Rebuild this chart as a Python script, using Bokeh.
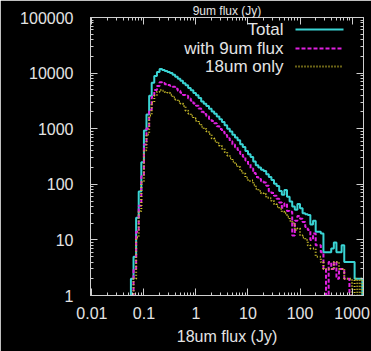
from bokeh.plotting import figure
from bokeh.models import (LogAxis, FixedTicker, NumeralTickFormatter, Range1d, Label, Arrow,
                          CustomJSTickFormatter)
from bokeh.embed import file_html
from bokeh.resources import INLINE

# histogram bin edges (Jy), 0.05 dex bins
bin_edges = [0.0562, 0.0631, 0.0708, 0.0794, 0.0891,
             0.100, 0.112, 0.126, 0.141, 0.158, 0.178, 0.200, 0.224, 0.251, 0.282,
             0.316, 0.355, 0.398, 0.447, 0.501, 0.562, 0.631, 0.708, 0.794, 0.891,
             1.00, 1.12, 1.26, 1.41, 1.58, 1.78, 2.00, 2.24, 2.51, 2.82,
             3.16, 3.55, 3.98, 4.47, 5.01, 5.62, 6.31, 7.08, 7.94, 8.91,
             10.0, 11.2, 12.6, 14.1, 15.8, 17.8, 20.0, 22.4, 25.1, 28.2,
             31.6, 35.5, 39.8, 44.7, 50.1, 56.2, 63.1, 70.8, 79.4, 89.1,
             100, 112, 126, 141, 158, 178, 200, 224, 251, 282,
             316, 355, 398, 447, 501, 562, 631, 708, 794, 891,
             1000, 1120, 1260, 1410, 1580, 1780]

total = [2, 5, 25, 74, 250, 930, 1800, 3900, 6700, 8900,
         10500, 11800, 11400, 10900, 10500, 10000, 9300, 8600, 7900, 7250,
         6600, 6030, 5370, 4900, 4370, 3980, 3550, 3090, 2820, 2570,
         2290, 2040, 1860, 1660, 1480, 1320, 1150, 1000, 891, 776,
         692, 617, 525, 468, 398, 347, 309, 257, 219, 200,
         182, 174, 151, 135, 120, 102, 93, 76, 65, 79,
         60, 49, 40, 35, 44, 37, 30, 29, 28, 19,
         22, 14, 14, 13, 6, 6, 6, 7, 9, 6,
         6, 8, 4, 4, 4, 4, 2, 2, 2, 0]

with_9um = [1, 3, 14, 41, 140, 520, 1010, 2180, 3750, 4980,
            5880, 6840, 6610, 6320, 6090, 5900, 5670, 5250, 4820, 4420,
            4030, 3920, 3490, 3190, 2840, 2590, 2310, 2010, 1830, 1670,
            1490, 1370, 1250, 1110, 990, 884, 770, 670, 597, 520,
            464, 413, 352, 314, 267, 232, 192, 159, 136, 124,
            113, 108, 94, 75, 70, 62, 55, 47, 38, 45,
            33, 32, 12, 22, 27, 24, 21, 17, 15, 10,
            13, 8, 8, 6, 3, 1, 4, 3, 4, 2,
            3, 3, 2, 2, 1, 1, 0, 0, 0, 0]

only_18um = [1, 2, 11, 33, 110, 410, 790, 1720, 2950, 3920,
             4620, 4960, 4790, 4580, 4410, 4100, 3630, 3350, 3080, 2830,
             2570, 2110, 1880, 1710, 1530, 1390, 1240, 1080, 990, 900,
             800, 670, 610, 550, 490, 436, 380, 330, 294, 256,
             228, 204, 173, 154, 131, 115, 117, 98, 83, 76,
             69, 66, 57, 56, 50, 44, 40, 36, 32, 30,
             26, 22, 20, 15, 16, 12, 11, 10, 8, 7,
             7, 5, 5, 4, 3, 3, 3, 3, 4, 4,
             3, 3, 2, 2, 2, 1, 2, 1, 2, 0]

x_ticks = [0.01, 0.1, 1, 10, 100, 1000]
y_ticks = [1, 10, 100, 1000, 10000, 100000]
series_names = ["Total", "with 9um flux", "18um only"]

FONT = "Liberation Sans"
TXT = "#e4e4e4"
AX = "#cfcfcf"
colors = ["#3ad4d4", "#e020e0", "#d2c42c"]
dashes = ["solid", "4 2", "1 2"]
widths = [2, 2, 2]

W, H = 371, 351
MB_L, MB_R, MB_T, MB_B = 90, 8, 14, 56
FW, FH = W - MB_L - MB_R, H - MB_T - MB_B

p = figure(width=W, height=H, x_axis_type="log", y_axis_type="log",
           x_range=Range1d(0.0094, 1660), y_range=Range1d(1, 100000),
           output_backend="svg", toolbar_location=None,
           min_border_left=MB_L, min_border_right=MB_R,
           min_border_top=MB_T, min_border_bottom=MB_B,
           background_fill_color="black", border_fill_color="black",
           outline_line_color=AX, outline_line_width=1)
p.grid.visible = False


def minors(ticks):
    return [m * t for t in ticks for m in range(2, 10)]


def style(ax, ticks, show_labels, fmt):
    ax.ticker = FixedTicker(ticks=ticks, minor_ticks=minors(ticks))
    ax.axis_line_color = AX
    ax.major_tick_line_color = AX
    ax.minor_tick_line_color = AX
    ax.major_tick_in = 7
    ax.major_tick_out = 0
    ax.minor_tick_in = 3
    ax.minor_tick_out = 0
    if show_labels:
        ax.formatter = NumeralTickFormatter(format=fmt)
        ax.major_label_text_font = FONT
        ax.major_label_text_font_size = "16px"
        ax.major_label_text_color = TXT
    else:
        ax.formatter = CustomJSTickFormatter(code="return ''")
        ax.major_label_text_font_size = "1px"
        ax.major_label_standoff = 0


style(p.xaxis[0], x_ticks, True, "0.[00]")
p.xaxis[0].major_label_standoff = 11
p.xaxis[0].axis_label = "18um flux (Jy)"
p.xaxis[0].axis_label_text_font = FONT
p.xaxis[0].axis_label_text_font_size = "16px"
p.xaxis[0].axis_label_text_font_style = "normal"
p.xaxis[0].axis_label_text_color = TXT
p.xaxis[0].axis_label_standoff = 6

style(p.yaxis[0], y_ticks, True, "0")
p.yaxis[0].major_label_standoff = 17

top = LogAxis(axis_label="9um flux (Jy)")
style(top, x_ticks, False, "0")
top.axis_label_text_font = FONT
top.axis_label_text_font_size = "12px"
top.axis_label_text_font_style = "normal"
top.axis_label_text_color = TXT
top.axis_label_standoff = 0
p.add_layout(top, "above")
right = LogAxis()
style(right, y_ticks, False, "0")
p.add_layout(right, "right")

FLOOR = 0.3
for i, counts in enumerate([total, with_9um, only_18um]):
    xs = [bin_edges[0]] + list(bin_edges)
    ys = [FLOOR] + [c if c > 0 else FLOOR for c in counts] + [FLOOR]
    p.step(xs, ys, mode="after", line_color=colors[i], line_width=widths[i],
           line_dash=dashes[i])

# gnuplot-style key: text right-aligned, sample on the right
row_y = [FH - 15, FH - 34, FH - 52]
for i, name in enumerate(series_names):
    p.add_layout(Label(x=193, y=row_y[i], x_units="screen", y_units="screen",
                       text=name, text_align="right", text_baseline="middle",
                       text_font=FONT, text_font_size="17px", text_color=TXT))
    p.add_layout(Arrow(x_start=205, y_start=row_y[i], x_end=253, y_end=row_y[i],
                       start_units="screen", end_units="screen", start=None, end=None,
                       line_color=colors[i], line_width=2, line_dash=dashes[i]))

open("out.html", "w").write(file_html(p, INLINE))
